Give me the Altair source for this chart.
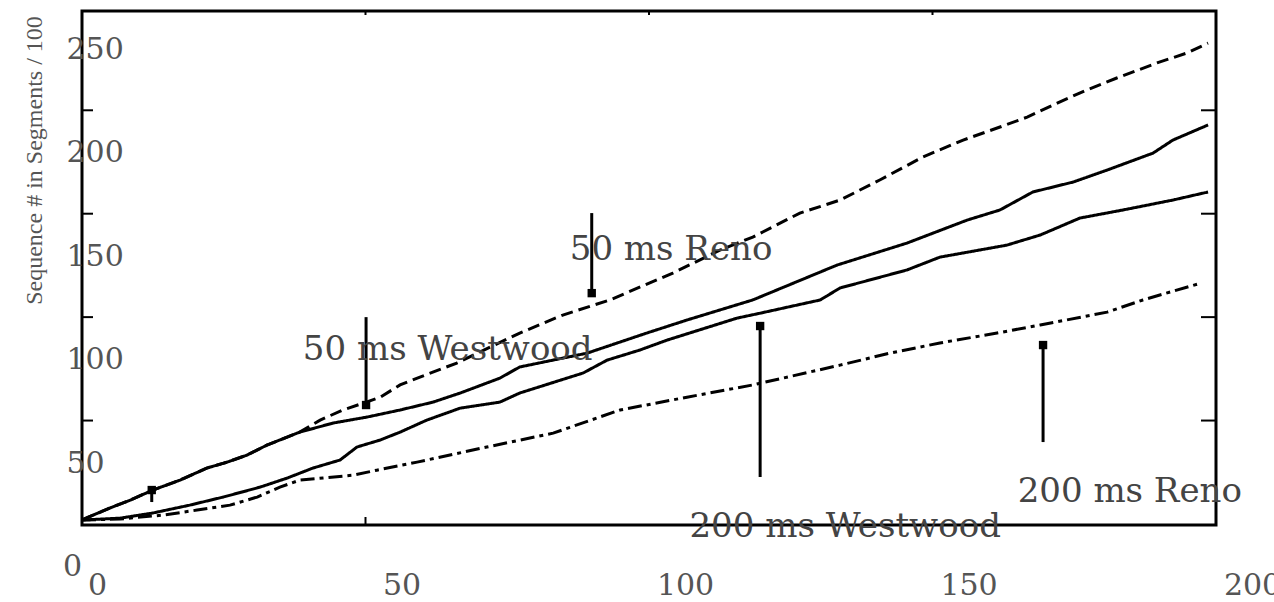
import altair as alt
import pandas as pd

# ---- data ----
reno50_x = [0, 4.9, 8.5, 12.5, 17.3, 22.0, 25.6, 29.1, 32.6, 38.4, 42.0, 46.0, 49.6, 52.6, 56.1, 59.6,
            66.1, 77.2, 84.8, 93.1, 104.2, 112.5, 118.3, 126.6, 133.7, 140.7, 148.3, 155.4, 161.9,
            166.7, 172.0, 177.2, 182.5, 189.6, 194.9, 198.6]
reno50_y = [27.0, 32.7, 36.5, 41.4, 46.2, 52.0, 54.9, 58.3, 63.1, 69.4, 75.2, 80.1, 83.4, 86.3, 92.2, 96.0,
            102.8, 117.3, 126.0, 133.3, 146.3, 157.4, 163.7, 175.3, 181.6, 191.3, 202.4, 210.6, 216.9,
            221.7, 228.5, 234.8, 240.6, 247.9, 252.7, 257.5]

west50_x = [0, 4.9, 8.5, 12.5, 17.3, 22.0, 25.6, 29.1, 32.6, 38.4, 44.3, 50.3, 56.1, 61.9, 66.7, 73.7,
            77.2, 89.1, 99.6, 106.7, 118.3, 133.2, 145.5, 156.1, 161.9, 167.7, 174.8, 180.8, 188.9,
            192.4, 198.6]
west50_y = [27.0, 32.7, 36.5, 41.4, 46.2, 52.0, 54.9, 58.3, 63.1, 69.4, 73.8, 76.7, 80.1, 83.9, 88.3, 95.5,
            100.9, 107.6, 117.3, 123.6, 133.3, 150.2, 160.8, 171.9, 176.8, 185.5, 190.3, 196.1, 204.3,
            210.6, 217.9]

west200_x = [0, 6.7, 12.5, 19.0, 24.9, 31.4, 36.2, 40.7, 45.5, 48.5, 52.6, 56.1, 60.8, 66.7, 73.7, 77.2,
             88.4, 92.6, 98.4, 103.2, 115.5, 119.6, 130.2, 133.7, 145.5, 151.3, 163.1, 169.0, 176.0,
             183.6, 192.4, 198.6]
west200_y = [26.9, 27.8, 30.3, 34.1, 38.0, 42.8, 47.2, 52.0, 55.9, 62.2, 65.6, 69.4, 75.2, 81.0, 83.9, 88.3,
             98.0, 104.2, 109.1, 113.9, 124.5, 126.9, 133.3, 139.1, 147.8, 154.0, 159.8, 164.7, 172.9,
             176.8, 181.6, 185.5]

reno200_x = [0, 6.7, 14.3, 20.3, 26.1, 30.9, 34.9, 38.4, 42.5, 47.8, 52.0, 59.1, 71.4, 83.1, 94.9, 106.7,
             118.3, 133.7, 142.5, 151.3, 161.4, 169.0, 180.8, 187.1, 196.8]
reno200_y = [26.9, 27.4, 29.3, 31.7, 34.1, 38.0, 42.8, 46.2, 47.2, 48.6, 51.0, 54.9, 62.2, 68.9, 80.1, 86.3,
             92.2, 101.8, 107.6, 112.5, 117.3, 121.2, 127.4, 133.3, 141.0]

series_names = ["50 ms Reno", "50 ms Westwood", "200 ms Westwood", "200 ms Reno"]

# annotations: label text, centre position
label_text = ["50 ms Reno", "50 ms Westwood", "200 ms Westwood", "200 ms Reno"]
label_x = [103.9, 64.5, 134.6, 184.8]
label_y = [157.4, 109.1, 23.5, 40.4]

# arrows: x, tail y, head y
arrow_x = [89.9, 50.1, 119.6, 169.5, 12.3]
arrow_tail = [175.3, 125.0, 47.7, 64.6, 35.6]
arrow_head = [136.6, 82.5, 120.7, 111.5, 41.4]

x_ticks = [0, 50, 100, 150, 200]
y_ticks = [0, 50, 100, 150, 200, 250]
y_minor = [75, 125, 175, 225]
x_top_minor = [50, 100, 150]
x_bottom_minor = [50]

X_DOMAIN = [0, 200]
Y_DOMAIN = [24.5, 273]
W, H = 1134, 514

# ---- tables ----
rows = []
for name, xs, ys in zip(series_names, [reno50_x, west50_x, west200_x, reno200_x],
                        [reno50_y, west50_y, west200_y, reno200_y]):
    for i, (a, b) in enumerate(zip(xs, ys)):
        rows.append({"series": name, "x": a, "y": b, "order": i})
lines_df = pd.DataFrame(rows)
labels_df = pd.DataFrame({"text": label_text, "x": label_x, "y": label_y})
arrows_df = pd.DataFrame({"x": arrow_x, "y": arrow_tail, "y2": arrow_head})
heads_df = pd.DataFrame({"x": arrow_x, "y": arrow_head})
yminor_df = pd.DataFrame({"y": y_minor})
xtop_df = pd.DataFrame({"x": x_top_minor})
xbot_df = pd.DataFrame({"x": x_bottom_minor})
# y tick values that fall below the visible domain (the "0" label)
ylow_df = pd.DataFrame({"y": [v for v in y_ticks if v < Y_DOMAIN[0]],
                        "text": [str(v) for v in y_ticks if v < Y_DOMAIN[0]]})

xscale = alt.Scale(domain=X_DOMAIN, nice=False, zero=False)
yscale = alt.Scale(domain=Y_DOMAIN, nice=False, zero=False)

LABEL_FONT = "DejaVu Serif"
LABEL_SIZE = 30
LABEL_COLOR = "#555555"

x_axis = alt.Axis(values=x_ticks, format="d", title=None, domain=False, ticks=False, tickSize=0,
                  grid=False, labelFont=LABEL_FONT, labelFontSize=LABEL_SIZE, labelColor=LABEL_COLOR,
                  labelPadding=45, labelFlush=False, labelOverlap=False, labelBound=False,
                  labelOffset={"condition": {"test": "datum.value === 0", "value": 15}, "value": 36})
y_axis = alt.Axis(values=[v for v in y_ticks if v >= Y_DOMAIN[0]], format="d",
                  title="Sequence # in Segments / 100", domain=False,
                  ticks=False, tickSize=0, grid=False, labelFont=LABEL_FONT, labelFontSize=LABEL_SIZE,
                  labelColor=LABEL_COLOR, labelAlign="left", labelBaseline="middle", labelPadding=16,
                  labelOffset=-9, labelFlush=False, labelOverlap=False, labelBound=False,
                  titleFont="Liberation Sans Narrow", titleFontSize=24, titleFontWeight="normal",
                  titleColor="#555555", titleAngle=270, titleAlign="center", titleBaseline="middle",
                  titleX=-48, titleY=149)

lines = alt.Chart(lines_df).mark_line(color="black", strokeWidth=3).encode(
    x=alt.X("x:Q", scale=xscale, axis=x_axis),
    y=alt.Y("y:Q", scale=yscale, axis=y_axis),
    strokeDash=alt.StrokeDash("series:N", legend=None,
                              scale=alt.Scale(domain=series_names,
                                              range=[[12, 6], [1, 0], [1, 0], [14, 5, 4, 5]])),
    order="order:Q",
)

arrows = alt.Chart(arrows_df).mark_rule(color="black", strokeWidth=3).encode(
    x="x:Q", y="y:Q", y2="y2:Q")
heads = alt.Chart(heads_df).mark_square(color="black", size=70, opacity=1).encode(
    x="x:Q", y="y:Q")

labels = alt.Chart(labels_df).mark_text(font="DejaVu Serif", fontSize=34, color="#444444",
                                        align="center", baseline="middle").encode(
    x="x:Q", y="y:Q", text="text:N")

ylow = alt.Chart(ylow_df).mark_text(font=LABEL_FONT, fontSize=LABEL_SIZE, color=LABEL_COLOR,
                                    align="left", baseline="middle", dy=-9).encode(
    y="y:Q", x=alt.value(-19), text="text:N")

left_ticks = alt.Chart(yminor_df).mark_rule(color="black", strokeWidth=2).encode(
    y="y:Q", x=alt.value(0), x2=alt.value(11))
right_ticks = alt.Chart(yminor_df).mark_rule(color="black", strokeWidth=2).encode(
    y="y:Q", x=alt.value(W - 15), x2=alt.value(W))
top_ticks = alt.Chart(xtop_df).mark_rule(color="black", strokeWidth=2).encode(
    x="x:Q", y=alt.value(0), y2=alt.value(4))
bottom_ticks = alt.Chart(xbot_df).mark_rule(color="black", strokeWidth=2).encode(
    x="x:Q", y=alt.value(H), y2=alt.value(H - 8))

chart = alt.layer(lines, arrows, heads, labels, ylow, left_ticks, right_ticks, top_ticks,
                  bottom_ticks).properties(
    width=W, height=H,
    autosize=alt.AutoSizeParams(type="none"),
    padding={"left": 82, "top": 11, "right": 58, "bottom": 77},
    background="white",
).configure_view(stroke="black", strokeWidth=3)

chart.save("out.html", embed_options={"renderer": "svg", "actions": False})
